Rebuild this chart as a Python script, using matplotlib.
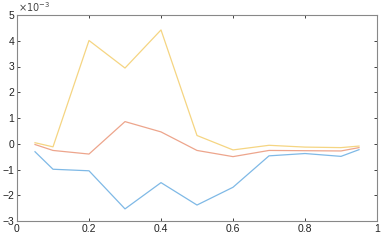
import matplotlib
matplotlib.use("Agg")
import matplotlib.pyplot as plt

plt.rcParams["font.family"] = ["Liberation Sans", "DejaVu Sans"]

# data (values in units of 1e-3)
x = [0.05, 0.1, 0.2, 0.3, 0.4, 0.5, 0.6, 0.7, 0.8, 0.9, 0.95]
blue = [-0.31, -0.99, -1.05, -2.53, -1.51, -2.38, -1.69, -0.47, -0.38, -0.49, -0.23]
red = [-0.03, -0.26, -0.40, 0.86, 0.46, -0.26, -0.50, -0.26, -0.27, -0.28, -0.15]
yellow = [0.04, -0.12, 4.01, 2.94, 4.42, 0.32, -0.24, -0.06, -0.13, -0.15, -0.09]

fig = plt.figure(figsize=(3.83, 2.40), dpi=100)
ax = fig.add_axes([17 / 383, 19 / 240, 360 / 383, 206 / 240])

ax.plot(x, blue, color="#7fb9e6", lw=0.9)
ax.plot(x, red, color="#eda58c", lw=0.9)
ax.plot(x, yellow, color="#f5d582", lw=0.9)

ax.set_xlim(0, 1)
ax.set_ylim(-3, 5)
ax.set_xticks([0, 0.2, 0.4, 0.6, 0.8, 1])
ax.set_xticklabels(["0", "0.2", "0.4", "0.6", "0.8", "1"])
ax.set_yticks(range(-3, 6))

ax.tick_params(direction="in", length=2.5, width=0.6, labelsize=7.5, colors="#222222",
               top=True, right=True, pad=2)
for s in ax.spines.values():
    s.set_color("#888888")
    s.set_linewidth(0.8)

ax.text(0.003, 1.005, r"$\times10^{-3}$", transform=ax.transAxes, fontsize=7,
        color="#444444", ha="left", va="bottom")

fig.savefig("out.png", dpi=100)
